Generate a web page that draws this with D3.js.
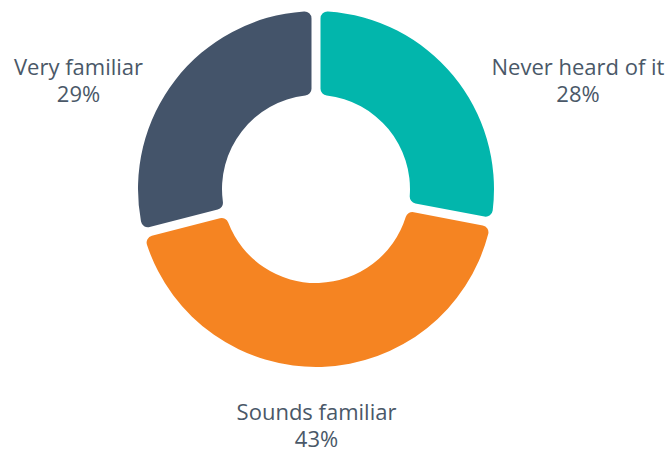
<!DOCTYPE html>
<html>
<head>
<meta charset="utf-8">
<script src="https://cdn.jsdelivr.net/npm/d3@7"></script>
<style>
  html, body { margin: 0; padding: 0; background: #ffffff; }
  svg { display: block; }
</style>
</head>
<body>
<svg id="chart" width="667" height="450"></svg>
<script>
const categories = ["Never heard of it", "Sounds familiar", "Very familiar"];
const values = [28, 43, 29];
const valueLabels = ["28%", "43%", "29%"];
const colors = ["#02b6ac", "#f58422", "#44546a"];

const width = 667, height = 450;
const cx = 316, cy = 189;
const outerR = 178, innerR = 94;
const gap = 9;

const svg = d3.select("#chart");
const g = svg.append("g").attr("transform", `translate(${cx},${cy})`);

const data = categories.map((c, i) => ({ name: c, value: values[i], label: valueLabels[i], color: colors[i] }));

const pie = d3.pie().value(d => d.value).sort(null);
const arcs = pie(data);

const arc = d3.arc()
  .innerRadius(innerR)
  .outerRadius(outerR)
  .padRadius(outerR)
  .padAngle(gap / outerR)
  .cornerRadius(7);

g.selectAll("path.slice")
  .data(arcs)
  .join("path")
  .attr("class", "slice")
  .attr("d", arc)
  .attr("fill", d => d.data.color);

// label anchors: placed outside the ring, pushed toward chart sides
const labelLayout = [
  { dx: 262, dy: -114 },
  { dx: 0.5, dy: 231 },
  { dx: -237.5, dy: -114 }
];
const lineGap = 27;

const labels = svg.append("g")
  .attr("font-family", "'Open Sans', 'Noto Sans', sans-serif")
  .attr("font-size", 22)
  .attr("fill", "#4a5868")
  .attr("text-anchor", "middle");

arcs.forEach((a, i) => {
  const L = labelLayout[i];
  const t = labels.append("text")
    .attr("x", cx + L.dx)
    .attr("y", cy + L.dy);
  t.append("tspan").attr("x", cx + L.dx).text(a.data.name);
  t.append("tspan").attr("x", cx + L.dx).attr("dy", lineGap).text(a.data.label);
});
</script>
</body>
</html>
